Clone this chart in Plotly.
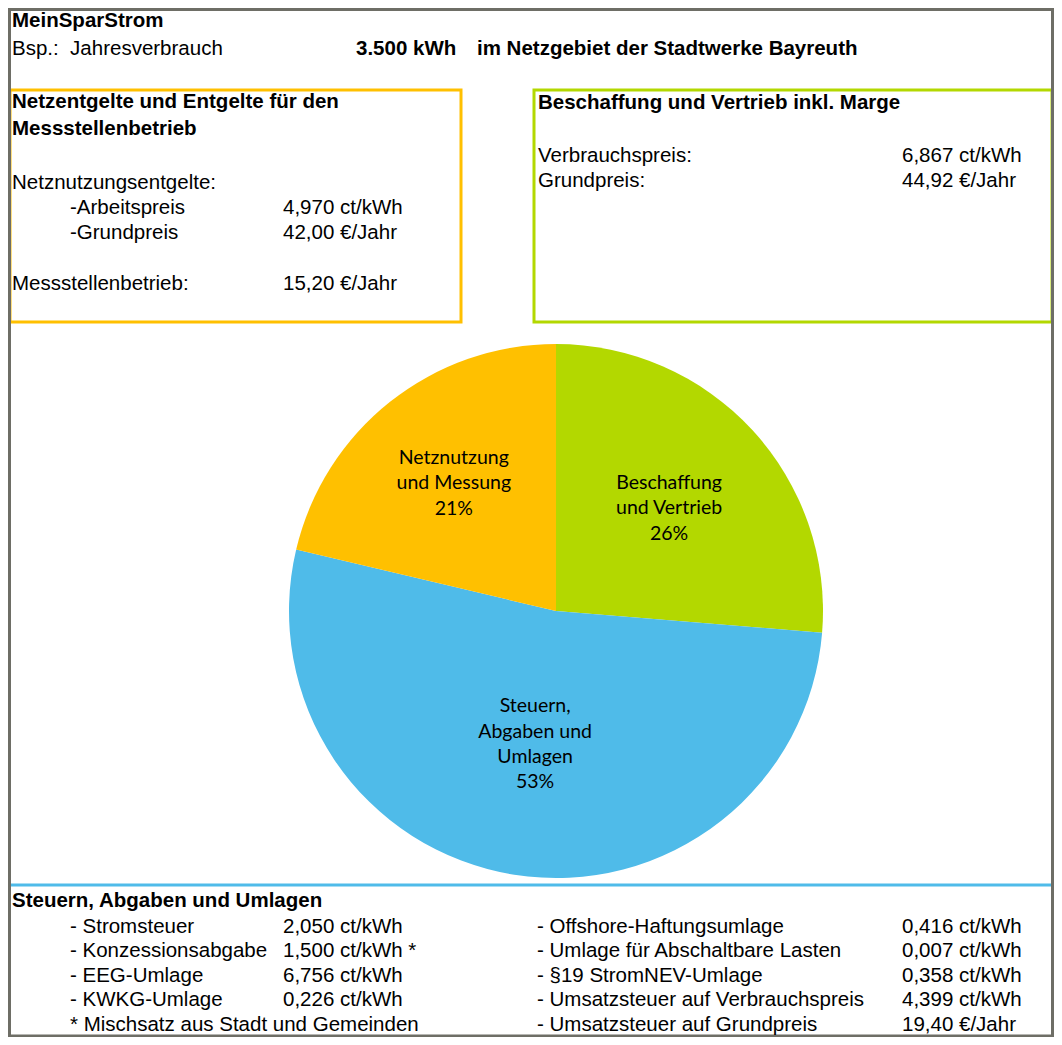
import plotly.graph_objects as go

# Colours
ORANGE = '#FFC000'
GREEN = '#B3D800'
BLUE = '#4FBBE9'
FRAME = '#6E6E66'

# Pie data (share of total price, %)
pie_labels = ['Beschaffung<br>und Vertrieb', 'Steuern,<br>Abgaben und<br>Umlagen', 'Netznutzung<br>und Messung']
pie_values = [26.3, 52.4, 21.3]
pie_percent = ['26%', '53%', '21%']
pie_colors = [GREEN, BLUE, ORANGE]

# Header
title = 'MeinSparStrom'
consumption = '3.500 kWh'
region = 'im Netzgebiet der Stadtwerke Bayreuth'

# Netzentgelte box
netz_items = ['-Arbeitspreis', '-Grundpreis']
netz_values = ['4,970 ct/kWh', '42,00 €/Jahr']
mess_value = '15,20 €/Jahr'

# Beschaffung box
besch_items = ['Verbrauchspreis:', 'Grundpreis:']
besch_values = ['6,867 ct/kWh', '44,92 €/Jahr']

# Steuern, Abgaben und Umlagen
tax_left_items = ['- Stromsteuer', '- Konzessionsabgabe', '- EEG-Umlage', '- KWKG-Umlage']
tax_left_values = ['2,050 ct/kWh', '1,500 ct/kWh *', '6,756 ct/kWh', '0,226 ct/kWh']
tax_right_items = ['- Offshore-Haftungsumlage', '- Umlage für Abschaltbare Lasten', '- §19 StromNEV-Umlage',
                   '- Umsatzsteuer auf Verbrauchspreis', '- Umsatzsteuer auf Grundpreis']
tax_right_values = ['0,416 ct/kWh', '0,007 ct/kWh', '0,358 ct/kWh', '4,399 ct/kWh', '19,40 €/Jahr']
footnote = '* Mischsatz aus Stadt und Gemeinden'

# page geometry (figure sits inside the 8px body margin)
W, H = 1046, 1029
OX, OY = 8, 8


def fx(x):
    return (x - OX) / W


def fy(y):
    return 1 - (y - OY) / H


FONT = 'Liberation Sans, Arial, sans-serif'
FS = 20.5

fig = go.Figure()

fig.add_trace(go.Pie(
    labels=pie_labels,
    values=pie_values,
    text=[f'{l}<br>{p}' for l, p in zip(pie_labels, pie_percent)],
    textinfo='text',
    textposition='inside',
    insidetextorientation='horizontal',
    sort=False,
    direction='clockwise',
    rotation=0,
    marker=dict(colors=pie_colors, line=dict(width=0)),
    textfont=dict(family='Lato, Carlito, Calibri, sans-serif', size=19.5, color='black'),
    domain=dict(x=[fx(289), fx(823)], y=[fy(878), fy(344)]),
    showlegend=False,
    hoverinfo='label+percent',
))

annotations = []


def txt(x, y, s, bold=False):
    annotations.append(dict(
        x=fx(x), y=fy(y), xref='paper', yref='paper',
        text=f'<b>{s}</b>' if bold else s,
        showarrow=False, xanchor='left', yanchor='middle',
        font=dict(family=FONT, size=FS, color='black'),
        borderpad=0,
    ))


# header
txt(11, 20, title, bold=True)
txt(11, 48, 'Bsp.:  Jahresverbrauch')
txt(355, 48, consumption, bold=True)
txt(476, 48, region, bold=True)

# orange box
txt(11, 101, 'Netzentgelte und Entgelte für den', bold=True)
txt(11, 127, 'Messstellenbetrieb', bold=True)
txt(11, 181, 'Netznutzungsentgelte:')
for i, (item, val) in enumerate(zip(netz_items, netz_values)):
    txt(69, 206 + 25 * i, item)
    txt(282, 206 + 25 * i, val)
txt(11, 282, 'Messstellenbetrieb:')
txt(282, 282, mess_value)

# green box
txt(537, 102, 'Beschaffung und Vertrieb inkl. Marge', bold=True)
for i, (item, val) in enumerate(zip(besch_items, besch_values)):
    txt(537, 155 + 25 * i, item)
    txt(901, 155 + 25 * i, val)

# bottom section
ROW0, STEP = 925, 24.5
txt(11, 899, 'Steuern, Abgaben und Umlagen', bold=True)
for i, (item, val) in enumerate(zip(tax_left_items, tax_left_values)):
    txt(69, ROW0 + STEP * i, item)
    txt(282, ROW0 + STEP * i, val)
txt(69, ROW0 + STEP * len(tax_left_items), footnote)
for i, (item, val) in enumerate(zip(tax_right_items, tax_right_values)):
    txt(536, ROW0 + STEP * i, item)
    txt(901, ROW0 + STEP * i, val)


def rect(x0, y0, x1, y1, color, width):
    return dict(type='rect', xref='paper', yref='paper',
                x0=fx(x0), x1=fx(x1), y0=fy(y1), y1=fy(y0),
                line=dict(color=color, width=width), fillcolor='rgba(0,0,0,0)')


shapes = [
    rect(10, 90, 461, 322, ORANGE, 3),
    rect(534, 90, 1052, 322, GREEN, 3),
    dict(type='line', xref='paper', yref='paper', x0=fx(9), x1=fx(1052), y0=fy(885), y1=fy(885),
         line=dict(color=BLUE, width=3)),
    rect(9.5, 9.5, 1052.5, 1036, FRAME, 3),
]

fig.update_layout(
    width=W, height=H,
    margin=dict(l=0, r=0, t=0, b=0),
    paper_bgcolor='white',
    plot_bgcolor='white',
    annotations=annotations,
    shapes=shapes,
)

fig.write_html('out.html')
